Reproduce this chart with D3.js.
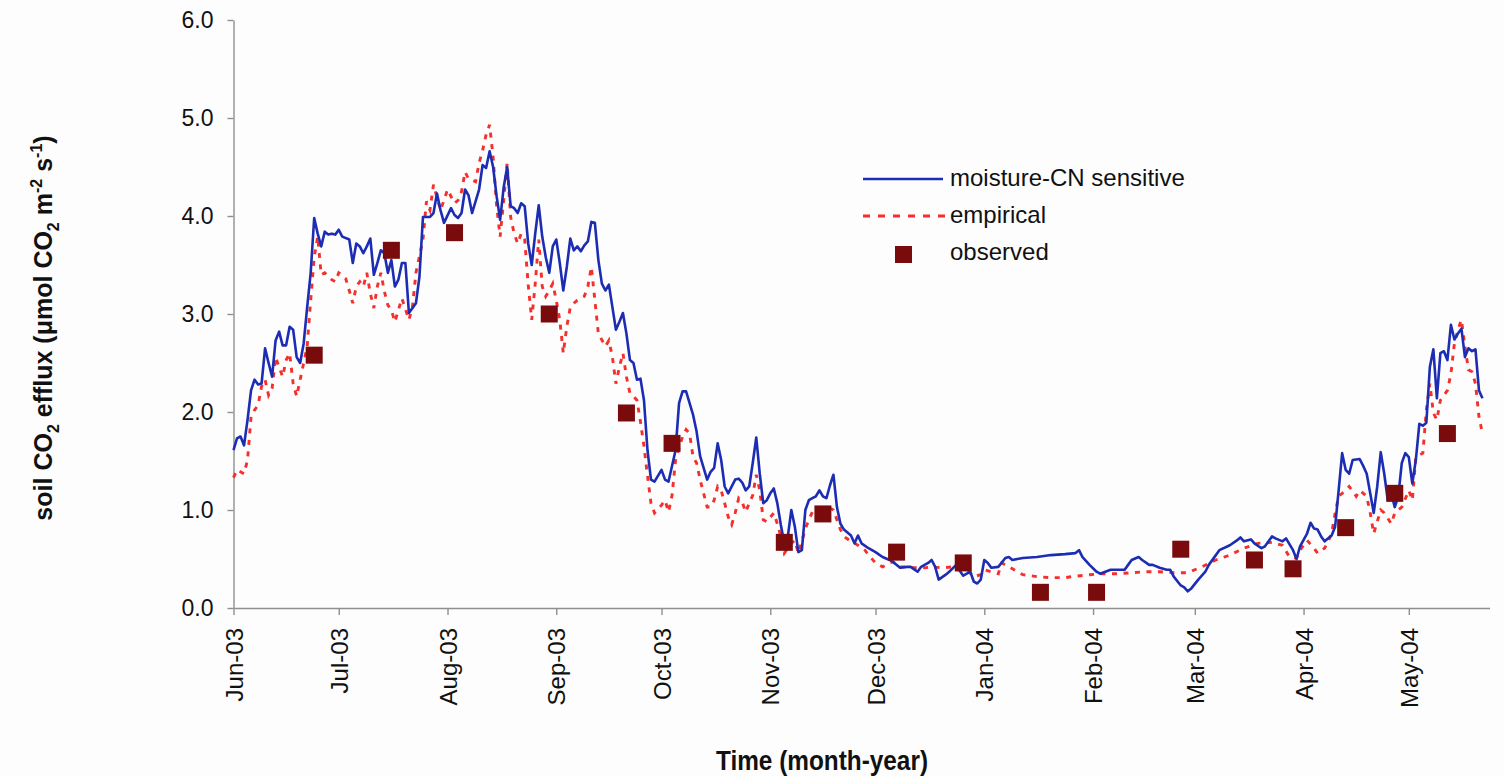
<!DOCTYPE html>
<html>
<head>
<meta charset="utf-8">
<script src="https://cdn.jsdelivr.net/npm/d3@7"></script>
<style>
  body { margin: 0; background: #fdfdfd; }
  svg { display: block; }
  text { font-family: Arial, "Liberation Sans", sans-serif; fill: #111; }
</style>
</head>
<body>
<svg id="chart" width="1504" height="776"></svg>
<script>
// Soil CO2 efflux, June 2003 - May 2004: two model runs and chamber observations.
const startDate = new Date(2003, 5, 1);
const endDate = new Date(2004, 4, 24);

// Moisture-CN sensitive model: day offset from 1 Jun 2003 and daily flux
const moistureDays = [0,1,2,3,4,5,6,7,8,9,10,11,12,13,14,15,16,17,18,19,20,21,22,23,24,25,26,27,28,29,30,31,33,34,35,36,37,38,39,40,41,42,43,44,45,46,47,48,49,50,52,53,54,56,57,58,59,60,62,63,64,65,66,67,68,70,71,72,73,74,75,76,77,78,79,80,81,82,83,84,85,86,87,88,89,90,91,92,93,94,95,96,97,98,99,100,101,102,103,104,105,106,107,108,109,110,111,112,113,114,115,116,117,118,119,120,122,123,124,126,127,128,129,131,132,133,135,136,137,138,139,140,141,143,144,145,146,147,148,149,150,151,152,153,154,155,156,157,158,159,160,161,162,163,164,165,166,167,168,169,170,171,172,173,174,176,177,178,179,181,183,185,187,188,190,192,193,195,196,198,199,200,201,203,204,206,207,208,210,211,212,213,214,215,216,218,220,221,222,225,229,233,237,240,241,242,244,246,247,250,254,255,256,258,259,261,262,264,266,267,268,270,271,272,273,275,277,278,281,284,286,287,288,290,291,293,294,296,297,299,300,302,303,304,306,307,308,309,310,311,313,314,315,316,317,318,319,321,322,323,324,325,326,327,328,329,330,331,332,333,334,335,336,337,338,339,340,341,342,343,344,345,346,347,348,349,350,351,352,353,354,355,356];
const moistureFlux = [1.61,1.73,1.75,1.66,1.92,2.22,2.33,2.28,2.29,2.65,2.50,2.36,2.73,2.82,2.68,2.68,2.87,2.84,2.56,2.50,2.70,3.07,3.42,3.98,3.82,3.69,3.84,3.81,3.82,3.81,3.86,3.79,3.76,3.52,3.72,3.69,3.62,3.69,3.77,3.40,3.52,3.65,3.62,3.42,3.55,3.28,3.35,3.52,3.52,3.01,3.11,3.38,3.99,3.99,4.03,4.23,4.06,3.93,4.08,4.01,3.98,4.03,4.27,4.21,4.03,4.27,4.52,4.49,4.66,4.50,4.20,3.96,4.29,4.50,4.10,4.08,4.03,4.13,4.10,3.72,3.50,3.82,4.11,3.79,3.58,3.42,3.69,3.76,3.52,3.24,3.48,3.77,3.65,3.69,3.64,3.70,3.74,3.94,3.93,3.55,3.31,3.24,3.30,3.07,2.84,2.92,3.01,2.80,2.53,2.50,2.33,2.34,2.12,1.61,1.31,1.29,1.41,1.31,1.29,1.61,2.09,2.21,2.21,1.97,1.80,1.55,1.31,1.39,1.43,1.68,1.51,1.24,1.17,1.31,1.32,1.28,1.20,1.24,1.48,1.74,1.37,1.07,1.10,1.17,1.22,1.07,0.85,0.66,0.73,1.00,0.83,0.57,0.59,1.00,1.10,1.12,1.14,1.20,1.14,1.12,1.25,1.36,1.03,0.86,0.80,0.74,0.66,0.74,0.66,0.61,0.57,0.52,0.49,0.47,0.41,0.42,0.42,0.37,0.42,0.46,0.49,0.42,0.29,0.34,0.37,0.44,0.38,0.33,0.37,0.27,0.25,0.29,0.49,0.46,0.41,0.42,0.51,0.52,0.49,0.51,0.52,0.54,0.55,0.56,0.59,0.52,0.44,0.37,0.35,0.39,0.39,0.44,0.49,0.52,0.49,0.44,0.44,0.41,0.39,0.39,0.32,0.23,0.21,0.17,0.20,0.29,0.37,0.44,0.59,0.64,0.69,0.72,0.68,0.70,0.66,0.61,0.63,0.73,0.71,0.68,0.71,0.59,0.50,0.63,0.76,0.87,0.81,0.80,0.73,0.68,0.74,0.83,1.20,1.58,1.41,1.37,1.51,1.52,1.45,1.37,1.17,0.97,1.24,1.59,1.37,1.10,1.17,1.03,1.14,1.48,1.58,1.54,1.27,1.51,1.88,1.86,1.89,2.46,2.64,2.14,2.60,2.62,2.53,2.89,2.74,2.80,2.85,2.56,2.65,2.62,2.64,2.22,2.14];

// Empirical model: day offset from 1 Jun 2003 and daily flux
const empiricalDays = [0,1,3,4,5,6,7,8,9,10,11,12,13,14,15,16,17,18,19,21,22,23,24,25,26,28,29,30,32,33,34,35,36,37,38,39,40,41,42,43,44,45,46,47,48,50,51,52,54,55,56,57,59,60,61,63,64,65,66,67,69,70,71,72,73,74,75,76,77,78,79,80,81,82,83,84,85,86,87,88,89,90,91,92,93,94,95,96,97,98,100,101,102,103,104,106,107,108,109,110,111,112,113,114,115,116,117,118,119,120,122,123,124,125,126,128,129,130,131,132,133,134,135,136,137,138,139,140,141,142,143,144,145,146,147,148,149,150,151,152,154,155,156,157,159,160,161,162,163,164,165,168,170,171,172,173,174,176,178,180,181,183,185,187,188,190,192,194,197,199,202,205,207,209,211,213,214,216,218,219,221,225,229,233,237,239,244,248,252,256,260,264,268,272,276,280,284,288,292,296,299,301,303,304,306,308,309,311,312,313,314,315,317,318,320,321,323,324,325,327,328,330,331,333,335,336,337,339,340,341,342,343,344,346,347,348,349,350,351,352,353,354,355,356];
const empiricalFlux = [1.33,1.41,1.37,1.51,1.95,2.02,2.07,2.26,2.33,2.17,2.24,2.56,2.46,2.36,2.53,2.60,2.29,2.16,2.33,2.67,3.14,3.58,3.79,3.40,3.42,3.35,3.33,3.42,3.36,3.24,3.11,3.28,3.33,3.28,3.42,3.21,3.06,3.28,3.42,3.23,3.09,3.04,2.92,3.04,3.16,2.94,3.07,3.42,3.76,4.15,4.06,4.32,4.06,4.16,4.27,4.13,4.16,4.25,4.45,4.38,4.35,4.54,4.67,4.83,4.93,4.60,4.10,3.79,4.16,4.54,3.99,3.82,3.72,3.82,3.76,3.30,2.94,3.31,3.76,3.28,3.18,3.24,3.31,3.14,2.94,2.60,2.87,3.07,3.11,3.14,3.18,3.28,3.48,3.14,2.80,2.67,2.73,2.56,2.29,2.46,2.60,2.36,2.19,2.16,2.12,1.90,1.65,1.35,1.07,0.97,1.05,1.10,0.98,1.15,1.51,1.75,1.82,1.78,1.54,1.48,1.31,1.17,1.03,1.03,1.10,1.24,1.20,1.07,0.93,0.85,0.97,1.12,1.08,0.98,1.07,1.15,1.36,1.20,0.90,0.88,0.97,0.86,0.73,0.56,0.66,0.69,0.56,0.68,0.81,0.90,0.98,1.03,1.02,1.00,0.90,0.80,0.73,0.68,0.64,0.59,0.54,0.46,0.42,0.46,0.47,0.42,0.42,0.41,0.41,0.42,0.41,0.42,0.42,0.39,0.32,0.34,0.39,0.37,0.35,0.46,0.42,0.34,0.32,0.31,0.31,0.32,0.34,0.35,0.35,0.36,0.37,0.37,0.36,0.36,0.42,0.49,0.54,0.61,0.66,0.67,0.64,0.52,0.51,0.59,0.69,0.61,0.56,0.61,0.68,0.76,0.97,1.14,1.20,1.24,1.14,1.20,1.14,0.97,0.76,1.00,0.97,0.86,0.97,1.03,1.20,1.10,1.54,1.58,2.02,2.29,1.99,1.92,2.12,2.22,2.39,2.70,2.84,2.94,2.67,2.43,2.41,2.29,1.95,1.78];

// Chamber measurements
const observedDates = ["2003-06-24","2003-07-16","2003-08-03","2003-08-30","2003-09-21","2003-10-04","2003-11-05","2003-11-16","2003-12-07","2003-12-26","2004-01-17","2004-02-02","2004-02-26","2004-03-18","2004-03-29","2004-04-13","2004-04-27","2004-05-12"];
const observedFlux = [2.58,3.65,3.83,3.00,1.99,1.68,0.67,0.96,0.57,0.46,0.16,0.16,0.60,0.49,0.40,0.82,1.17,1.78];

const yTicks = [0, 1, 2, 3, 4, 5, 6];
const seriesNames = ["moisture-CN sensitive", "empirical", "observed"];

const colors = { moisture: "#1c2db3", empirical: "#f5302c", observed: "#7a0b0d", axis: "#8f8f8f" };

const parseDate = d3.timeParse("%Y-%m-%d");
const toSeries = (days, vals) => days.map((d, i) => ({ date: d3.timeDay.offset(startDate, d), value: vals[i] }));
const moisture = toSeries(moistureDays, moistureFlux);
const empirical = toSeries(empiricalDays, empiricalFlux);
const observed = observedDates.map((d, i) => ({ date: parseDate(d), value: observedFlux[i] }));

const svg = d3.select("#chart");
const plot = { left: 233.5, right: 1489.5, top: 20, bottom: 608 };

const x = d3.scaleTime().domain([startDate, endDate]).range([plot.left, plot.right]);
const y = d3.scaleLinear().domain([0, 6]).range([plot.bottom, plot.top]);

// Y axis
const yAxis = svg.append("g")
  .attr("transform", `translate(${plot.left},0)`)
  .call(d3.axisLeft(y).tickValues(yTicks).tickFormat(d3.format(".1f")).tickSize(6).tickSizeOuter(0).tickPadding(14));
yAxis.selectAll("text").style("font-size", "23px").attr("fill", "#111");

// X axis with month ticks
const months = d3.timeMonth.range(startDate, endDate);
const xAxis = svg.append("g")
  .attr("transform", `translate(0,${plot.bottom})`)
  .call(d3.axisBottom(x).tickValues(months).tickFormat(d3.timeFormat("%b-%y")).tickSize(7).tickSizeOuter(0));
xAxis.selectAll("text")
  .style("font-size", "24px")
  .style("text-anchor", "end")
  .attr("fill", "#111")
  .attr("transform", "rotate(-90)")
  .attr("x", -20)
  .attr("y", 0)
  .attr("dy", "0.36em");

svg.selectAll(".domain, .tick line").attr("stroke", colors.axis).attr("stroke-width", 1.4);

// Model lines
const line = d3.line().x(d => x(d.date)).y(d => y(d.value));

svg.append("path")
  .datum(empirical)
  .attr("d", line)
  .attr("fill", "none")
  .attr("stroke", colors.empirical)
  .attr("stroke-width", 2.9)
  .attr("stroke-dasharray", "5,6.5");

svg.append("path")
  .datum(moisture)
  .attr("d", line)
  .attr("fill", "none")
  .attr("stroke", colors.moisture)
  .attr("stroke-width", 2.6)
  .attr("stroke-linejoin", "round");

// Observations
const sq = 17;
svg.append("g").selectAll("rect")
  .data(observed)
  .join("rect")
  .attr("x", d => x(d.date) - sq / 2)
  .attr("y", d => y(d.value) - sq / 2)
  .attr("width", sq)
  .attr("height", sq)
  .attr("fill", colors.observed);

// Legend
const legend = svg.append("g");
legend.append("line").attr("x1", 863).attr("x2", 943).attr("y1", 179).attr("y2", 179)
  .attr("stroke", colors.moisture).attr("stroke-width", 2.6);
legend.append("line").attr("x1", 863).attr("x2", 946).attr("y1", 216).attr("y2", 216)
  .attr("stroke", colors.empirical).attr("stroke-width", 2.9).attr("stroke-dasharray", "7,8");
legend.append("rect").attr("x", 895).attr("y", 246).attr("width", sq).attr("height", sq)
  .attr("fill", colors.observed);
[186, 223, 260].forEach((by, i) => {
  legend.append("text").attr("x", 950).attr("y", by).style("font-size", "24px").text(seriesNames[i]);
});

// Axis titles
const yTitle = svg.append("text")
  .attr("transform", "translate(52,328) rotate(-90)")
  .attr("text-anchor", "middle")
  .style("font-size", "25px")
  .style("font-weight", "bold");
const parts = [
  ["soil CO", 0], ["2", 1], [" efflux (\u03bcmol CO", 0], ["2", 1], [" m", 0], ["-2", 2], [" s", 0], ["-1", 2], [")", 0]
];
let shift = 0;
parts.forEach(([t, kind]) => {
  const target = kind === 1 ? 7 : kind === 2 ? -10 : 0;
  yTitle.append("tspan")
    .attr("dy", target - shift)
    .style("font-size", kind ? "16px" : "25px")
    .text(t);
  shift = target;
});

svg.append("text")
  .attr("transform", "translate(822,770) scale(0.87,1)")
  .attr("text-anchor", "middle")
  .style("font-size", "28px")
  .style("font-weight", "bold")
  .text("Time (month-year)");
</script>
</body>
</html>
